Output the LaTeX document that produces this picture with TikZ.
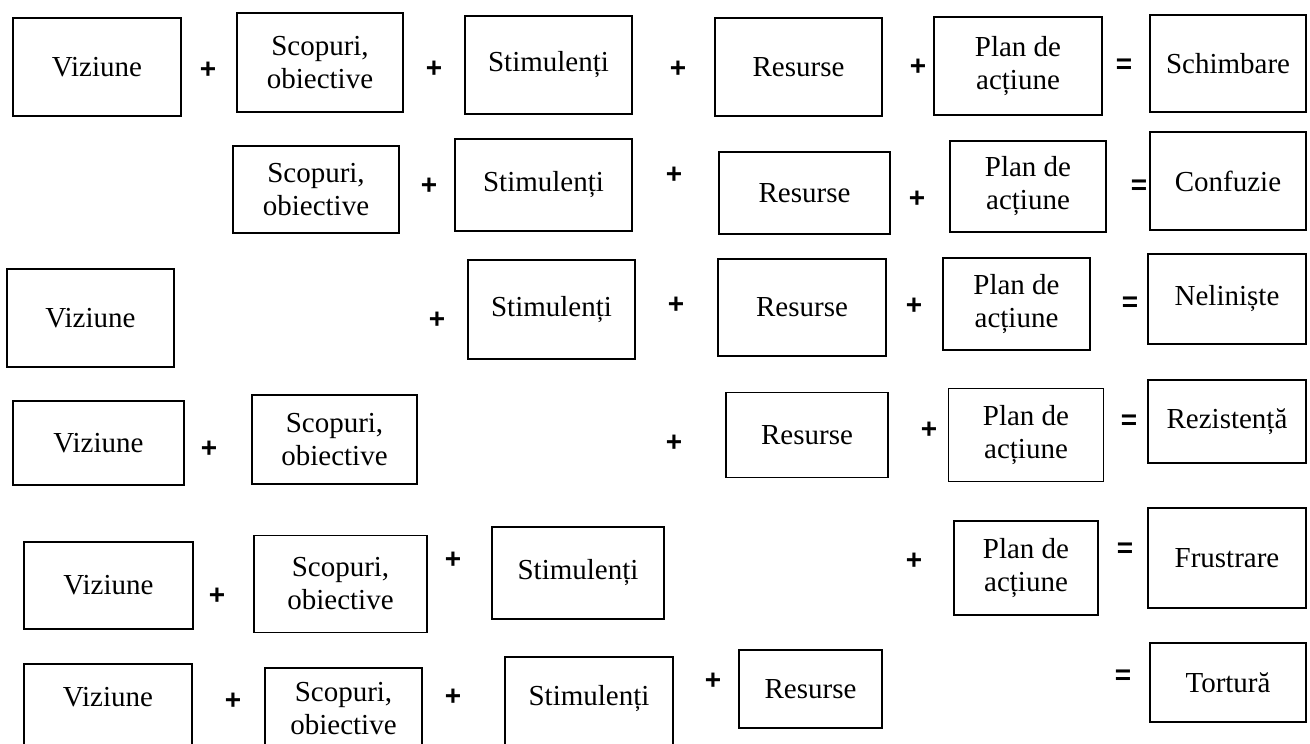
\documentclass[tikz,border=0pt]{standalone}
\usepackage{fontspec}
\setmainfont{Liberation Serif}
\newfontfamily\opfamily{Liberation Sans}
\begin{document}
\begin{tikzpicture}[x=1pt,y=-1pt,
  box/.style={draw, line width=1.5pt, inner sep=0pt, align=center,
    font=\fontsize{29}{33}\selectfont},
  txt/.style={inner sep=0pt, align=center, font=\fontsize{29}{33}\selectfont},
  op/.style={inner sep=0pt, font=\opfamily\bfseries\fontsize{28}{28}\selectfont}]
\useasboundingbox (0,0) rectangle (1310,744);
\begin{scope}
\clip (0,0) rectangle (1310,744);
% Row 1
\node[box, minimum width=168pt, minimum height=98pt] (v1) at (97,67) {Viziune};
\node[op] (a11) at (208,70) {+};
\node[box, minimum width=166pt, minimum height=99pt] (s1) at (320,62.5) {Scopuri,\\obiective};
\node[op] (a12) at (434,69) {+};
\node[box, minimum width=167pt, minimum height=98pt] (st1) at (548.5,65) {Stimulenți};
\node[op] (a13) at (678,69) {+};
\node[box, minimum width=167pt, minimum height=98pt] (r1) at (798.5,67) {Resurse};
\node[op] (a14) at (918,67) {+};
\node[box, minimum width=168pt, minimum height=98pt] (p1) at (1018,66) {Plan de\\acțiune};
\node[op] (e1) at (1124,66) {=};
\node[box, minimum width=156pt, minimum height=97pt] (o1) at (1228,63.5) {Schimbare};
% Row 2
\node[box, minimum width=166pt, minimum height=87pt] (s2) at (316,189.5) {Scopuri,\\obiective};
\node[op] (a22) at (429,186) {+};
\node[box, minimum width=177pt, minimum height=92pt] (st2) at (543.5,185) {Stimulenți};
\node[op] (a23) at (674,175) {+};
\node[box, minimum width=171pt, minimum height=82pt] (r2) at (804.5,193) {Resurse};
\node[op] (a24) at (917,199) {+};
\node[box, minimum width=156pt, minimum height=91pt] (p2) at (1028,186.5) {Plan de\\acțiune};
\node[op] (e2) at (1139,187) {=};
\node[box, minimum width=156pt, minimum height=98pt] (o2) at (1228,181) {Confuzie};
% Row 3
\node[box, minimum width=167pt, minimum height=98pt] (v3) at (90.5,318) {Viziune};
\node[op] (a32) at (437,320) {+};
\node[box, minimum width=167pt, minimum height=99pt] (st3) at (551.5,309.5) {Stimulenți};
\node[op] (a33) at (676,305) {+};
\node[box, minimum width=168pt, minimum height=97pt] (r3) at (802,307.5) {Resurse};
\node[op] (a34) at (914,306) {+};
\node[box, minimum width=147pt, minimum height=92pt] (p3) at (1016.5,304) {Plan de\\acțiune};
\node[op] (e3) at (1130,304) {=};
\node[box, minimum width=158pt, minimum height=90pt] (o3) at (1227,299) {Neliniște};
% Row 4
\node[box, minimum width=171pt, minimum height=84pt] (v4) at (98.5,443) {Viziune};
\node[op] (a41) at (209,449) {+};
\node[box, minimum width=165pt, minimum height=89pt] (s4) at (334.5,439.5) {Scopuri,\\obiective};
\node[op] (a43) at (674,443) {+};
\node[box, minimum width=162pt, minimum height=85pt] (r4) at (807,435) {Resurse};
\node[op] (a44) at (929,430) {+};
\node[box, minimum width=155pt, minimum height=93pt] (p4) at (1026,435) {Plan de\\acțiune};
\node[op] (e4) at (1129,422) {=};
\node[box, minimum width=158pt, minimum height=83pt] (o4) at (1227,421.5) {Rezistență};
% Row 5
\node[box, minimum width=169pt, minimum height=87pt] (v5) at (108.5,585.5) {Viziune};
\node[op] (a51) at (217,596) {+};
\node[box, minimum width=173pt, minimum height=97pt] (s5) at (340.5,584) {Scopuri,\\obiective};
\node[op] (a52) at (453,560) {+};
\node[box, minimum width=172pt, minimum height=92pt] (st5) at (578,573) {Stimulenți};
\node[op] (a54) at (914,561) {+};
\node[box, minimum width=144pt, minimum height=94pt] (p5) at (1026,568) {Plan de\\acțiune};
\node[op] (e5) at (1125,550) {=};
\node[box, minimum width=158pt, minimum height=100pt] (o5) at (1227,558) {Frustrare};
% Row 6
\node[box, anchor=north, minimum width=168pt, minimum height=90pt] (v6) at (108,663) {};
\node[txt] (v6t) at (108,697) {Viziune};
\node[op] (a61) at (233,701) {+};
\node[box, anchor=north, minimum width=157pt, minimum height=90pt] (s6) at (343.5,667) {};
\node[txt] (s6t) at (343.5,709) {Scopuri,\\obiective};
\node[op] (a62) at (453,697) {+};
\node[box, anchor=north, minimum width=168pt, minimum height=90pt] (st6) at (589,656) {};
\node[txt] (st6t) at (589,699) {Stimulenți};
\node[op] (a63) at (713,681) {+};
\node[box, minimum width=143pt, minimum height=78pt] (r6) at (810.5,689) {Resurse};
\node[op] (e6) at (1123,677) {=};
\node[box, minimum width=156pt, minimum height=79pt] (o6) at (1228,682.5) {Tortură};
\end{scope}
\end{tikzpicture}
\end{document}
